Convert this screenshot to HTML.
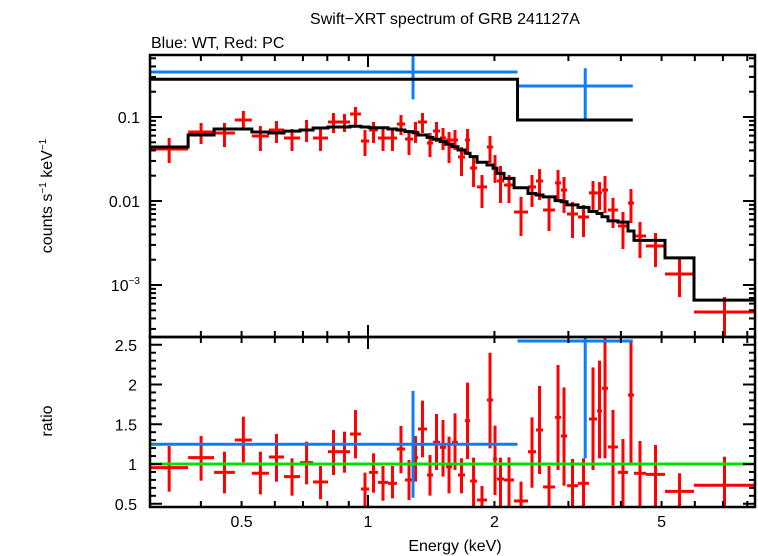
<!DOCTYPE html>
<html><head><meta charset="utf-8"><style>
html,body{margin:0;padding:0;background:#fff;}
svg{display:block;font-family:"Liberation Sans",sans-serif;}
</style></head><body>
<svg id="chart" width="758" height="556" viewBox="0 0 758 556" xmlns="http://www.w3.org/2000/svg">
<text x="445" y="24" font-size="16" text-anchor="middle">Swift−XRT spectrum of GRB 241127A</text>
<text x="151" y="48" font-size="16">Blue: WT, Red: PC</text>
<text transform="translate(52,196) rotate(-90)" font-size="16" text-anchor="middle">counts s<tspan dy="-6" font-size="10">−1</tspan><tspan dy="6"> keV</tspan><tspan dy="-6" font-size="10">−1</tspan></text>
<text transform="translate(52,421) rotate(-90)" font-size="16" text-anchor="middle">ratio</text>
<text x="455" y="551" font-size="16" text-anchor="middle">Energy (keV)</text>
<defs>
<clipPath id="ctop"><rect x="150" y="55" width="605" height="282"/></clipPath>
<clipPath id="cbot"><rect x="150" y="337" width="605" height="170"/></clipPath>
</defs>
<g id="topPanel" clip-path="url(#ctop)"></g>
<g id="botPanel" clip-path="url(#cbot)"></g>
<g id="axes"></g>
</svg>
<script>
// PC bin edges (keV)
const pcEdges=[0.303,0.373,0.430,0.482,0.529,0.581,0.631,0.689,0.740,0.803,0.853,0.906,0.962,1.006,1.056,1.116,1.172,1.225,1.280,1.315,1.382,1.428,1.484,1.534,1.585,1.638,1.702,1.750,1.818,1.920,1.985,2.028,2.108,2.227,2.404,2.512,2.611,2.788,2.881,2.978,3.162,3.359,3.510,3.607,3.728,3.937,4.159,4.298,4.591,5.095,5.973,8.345];
const pcRate=[0.0416,0.0663,0.0645,0.0921,0.0594,0.0700,0.0562,0.0700,0.0562,0.0872,0.0872,0.1086,0.0518,0.0700,0.0562,0.0562,0.0825,0.0547,0.0663,0.0872,0.0490,0.0681,0.0562,0.0532,0.0532,0.0334,0.0532,0.0247,0.0147,0.0439,0.0247,0.0173,0.0155,0.0074,0.0147,0.0173,0.00781,0.0164,0.0135,0.0070,0.00645,0.0125,0.0125,0.0135,0.00781,0.00504,0.00947,0.00383,0.00291,0.00135,0.000477];
const pcRateLo=[0.0283,0.0477,0.0439,0.0720,0.0394,0.0490,0.0394,0.0504,0.0394,0.0645,0.0663,0.0781,0.0343,0.0490,0.0394,0.0394,0.0610,0.0353,0.0490,0.0645,0.0334,0.0504,0.0405,0.0283,0.0405,0.0198,0.0353,0.0147,0.00825,0.0283,0.0164,0.00947,0.00947,0.00383,0.00848,0.0103,0.00439,0.0103,0.0072,0.00363,0.00373,0.0072,0.00781,0.0072,0.00477,0.00268,0.00547,0.0021,0.00164,0.00072,0.00024];
const pcRateHi=[0.0562,0.0848,0.0848,0.1179,0.0781,0.0896,0.0720,0.0921,0.0720,0.1116,0.1086,0.1315,0.0700,0.0872,0.0740,0.0700,0.1056,0.0700,0.0872,0.1116,0.0645,0.0872,0.0740,0.0663,0.0700,0.0439,0.0720,0.0334,0.0204,0.0594,0.0353,0.0261,0.0204,0.0112,0.0204,0.0240,0.0109,0.0234,0.0193,0.00973,0.00896,0.0173,0.0168,0.0198,0.0109,0.0074,0.0139,0.00562,0.00416,0.00204,0.00072];
const pcModel=[0.0439,0.061,0.072,0.072,0.0663,0.0645,0.068,0.070,0.074,0.076,0.076,0.0775,0.076,0.0745,0.0745,0.072,0.070,0.067,0.065,0.061,0.0573,0.0543,0.0509,0.0473,0.0443,0.0405,0.037,0.0337,0.0289,0.0268,0.0245,0.0213,0.0186,0.0144,0.0123,0.0118,0.0112,0.0101,0.0098,0.009,0.0084,0.0075,0.0071,0.0065,0.0058,0.0056,0.0044,0.0034,0.0034,0.0021,0.00066];
const pcRatio=[0.954,1.080,0.895,1.302,0.883,1.088,0.841,1.017,0.774,1.155,1.155,1.377,0.686,0.895,0.769,0.757,1.189,0.799,1.080,1.440,0.862,1.273,1.210,0.966,1.273,0.862,1.545,0.786,0.547,1.805,1.063,0.811,0.799,0.535,1.155,1.428,0.711,1.587,1.352,0.727,0.757,1.566,1.667,1.952,1.214,0.895,1.868,0.883,0.870,0.656,0.732];
const pcRatioLo=[0.652,0.790,0.631,1.021,0.618,0.778,0.602,0.744,0.556,0.862,0.891,1.071,0.40,0.639,0.539,0.568,0.883,0.547,0.778,1.084,0.602,0.925,0.841,0.631,0.925,0.631,1.063,0.40,0.40,1.197,0.610,0.40,0.40,0.40,0.702,0.874,0.40,0.925,0.727,0.40,0.40,0.925,1.071,1.071,0.476,0.40,1.008,0.40,0.40,0.40,0.40];
const pcRatioHi=[1.226,1.352,1.155,1.595,1.155,1.377,1.071,1.281,0.975,1.428,1.407,1.679,0.891,1.134,0.975,0.975,1.478,1.050,1.352,1.797,1.113,1.629,1.553,1.344,1.637,1.071,2.023,1.080,0.723,2.400,1.482,1.080,1.084,0.778,1.587,1.981,0.975,2.245,1.964,1.063,1.071,2.216,2.300,2.610,1.679,1.314,2.560,1.289,1.239,0.883,1.092];
// WT
const wtLo=[0.303,2.27];
const wtHi=[2.27,4.27];
const wtCenter=[1.28,3.29];
const wtRate=[0.343,0.234];
const wtRateLo=[0.162,0.0946];
const wtRateHi=[0.9,0.38];
const wtModel=[0.281,0.0921];
const wtRatio=[1.248,2.547];
const wtRatioLo=[0.576,1.07];
const wtRatioHi=[1.92,3.2];
// axes
const xMajor=[0.5,1,2,5];
const xLabels=["0.5","1","2","5"];
const yTopMajor=[0.1,0.01,0.001];
const yBotLabels=[0.5,1,1.5,2,2.5];

const X0=150,X1=755,TY0=55,TY1=337,BY0=337,BY1=507;
const xs=e=>368+420*Math.log10(e);
const yt=v=>117-84*(Math.log10(v)+1);
const yb=r=>464-79.5*(r-1);
const NS="http://www.w3.org/2000/svg";
function mk(tag,attrs,parent){const el=document.createElementNS(NS,tag);for(const k in attrs)el.setAttribute(k,attrs[k]);parent.appendChild(el);return el;}
function ln(p,x1,y1,x2,y2,c,w){return mk('line',{x1,y1,x2,y2,stroke:c,'stroke-width':w},p);}
const topG=document.getElementById('topPanel'),botG=document.getElementById('botPanel'),ax=document.getElementById('axes');
const RED='#ff0000',BLUE='#0a7ff5',W=3;

// top panel: PC data
for(let i=0;i<pcRate.length;i++){
  const g=mk('g',{},topG);
  
  
  const xa=xs(pcEdges[i]),xb=xs(pcEdges[i+1]),xc=(xa+xb)/2;
  ln(g,xa,yt(pcRate[i]),xb,yt(pcRate[i]),RED,W);
  ln(g,xc,yt(pcRateLo[i]),xc,yt(pcRateHi[i]),RED,W);
}
// PC model step
let d='';
for(let i=0;i<pcModel.length;i++){
  const xa=xs(pcEdges[i]),xb=xs(pcEdges[i+1]),y=yt(pcModel[i]);
  d+=(i===0?'M':'L')+xa+','+y+'L'+xb+','+y;
}
const pm=mk('path',{d,fill:'none',stroke:'#000','stroke-width':W},topG);


// WT data
for(let i=0;i<wtRate.length;i++){
  const g=mk('g',{},topG);
  
  
  ln(g,xs(wtLo[i]),yt(wtRate[i]),xs(wtHi[i]),yt(wtRate[i]),BLUE,W);
  ln(g,xs(wtCenter[i]),yt(wtRateLo[i]),xs(wtCenter[i]),yt(wtRateHi[i]),BLUE,W);
}
d='';
for(let i=0;i<wtModel.length;i++){
  const y=yt(wtModel[i]);
  d+=(i===0?'M':'L')+xs(wtLo[i])+','+y+'L'+xs(wtHi[i])+','+y;
}
const wm=mk('path',{d,fill:'none',stroke:'#000','stroke-width':W},topG);



// bottom panel
for(let i=0;i<pcRatio.length;i++){
  const g=mk('g',{},botG);
  
  
  const xa=xs(pcEdges[i]),xb=xs(pcEdges[i+1]),xc=(xa+xb)/2;
  ln(g,xa,yb(pcRatio[i]),xb,yb(pcRatio[i]),RED,W);
  ln(g,xc,yb(pcRatioLo[i]),xc,yb(pcRatioHi[i]),RED,W);
}
for(let i=0;i<wtRatio.length;i++){
  const g=mk('g',{},botG);
  
  
  ln(g,xs(wtLo[i]),yb(wtRatio[i]),xs(wtHi[i]),yb(wtRatio[i]),BLUE,W);
  ln(g,xs(wtCenter[i]),yb(wtRatioLo[i]),xs(wtCenter[i]),yb(wtRatioHi[i]),BLUE,W);
}
const unity=ln(botG,X0,yb(1),X1,yb(1),'#00e000',3);



// frames
const f1=mk('rect',{x:X0,y:TY0,width:X1-X0,height:TY1-TY0,fill:'none',stroke:'#000','stroke-width':2.5},ax);


const f2=mk('rect',{x:X0,y:BY0,width:X1-X0,height:BY1-BY0,fill:'none',stroke:'#000','stroke-width':2.5},ax);



// x ticks
const xTicks=[];
for(let e=0.4;e<=0.95;e+=0.1)xTicks.push(+e.toFixed(2));
for(let e=1;e<=8;e++)xTicks.push(e);
for(const e of xTicks){
  const x=xs(e),L=(e===1)?12:6;
  for(const [y0,s] of [[TY0,1],[TY1,-1],[BY0,1],[BY1,-1]]) ln(ax,x,y0,x,y0+s*L,'#000',2);
}
xMajor.forEach((e,i)=>{
  const t=mk('text',{x:xs(e),y:527,'font-size':16,'text-anchor':'middle'},ax);
  t.textContent=xLabels[i];
  
  
});
// top y ticks
for(let dec=-4;dec<=-1;dec++){
  for(let m=1;m<=9;m++){
    const v=m*Math.pow(10,dec),y=yt(v);
    if(y<TY0||y>TY1)continue;
    const L=m===1?12:6;
    ln(ax,X0,y,X0+L,y,'#000',2);ln(ax,X1,y,X1-L,y,'#000',2);
  }
}
const topLab=["0.1","0.01"];
yTopMajor.forEach((v,i)=>{
  const t=mk('text',{x:140,y:yt(v)+6,'font-size':16,'text-anchor':'end'},ax);
  if(i<2)t.textContent=topLab[i];
  else{t.textContent='10';const s=mk('tspan',{dy:-7,'font-size':10},t);s.textContent='−3';}
  
  
});
// bottom y ticks
for(let k=5;k<=26;k++){
  const r=k/10,y=yb(r);
  if(y<BY0||y>BY1)continue;
  const L=(k%5===0)?12:6;
  ln(ax,X0,y,X0+L,y,'#000',2);ln(ax,X1,y,X1-L,y,'#000',2);
}
yBotLabels.forEach(r=>{
  const t=mk('text',{x:137,y:yb(r)+6,'font-size':16,'text-anchor':'end'},ax);
  t.textContent=String(r);
  
  
});
</script>
</body></html>
